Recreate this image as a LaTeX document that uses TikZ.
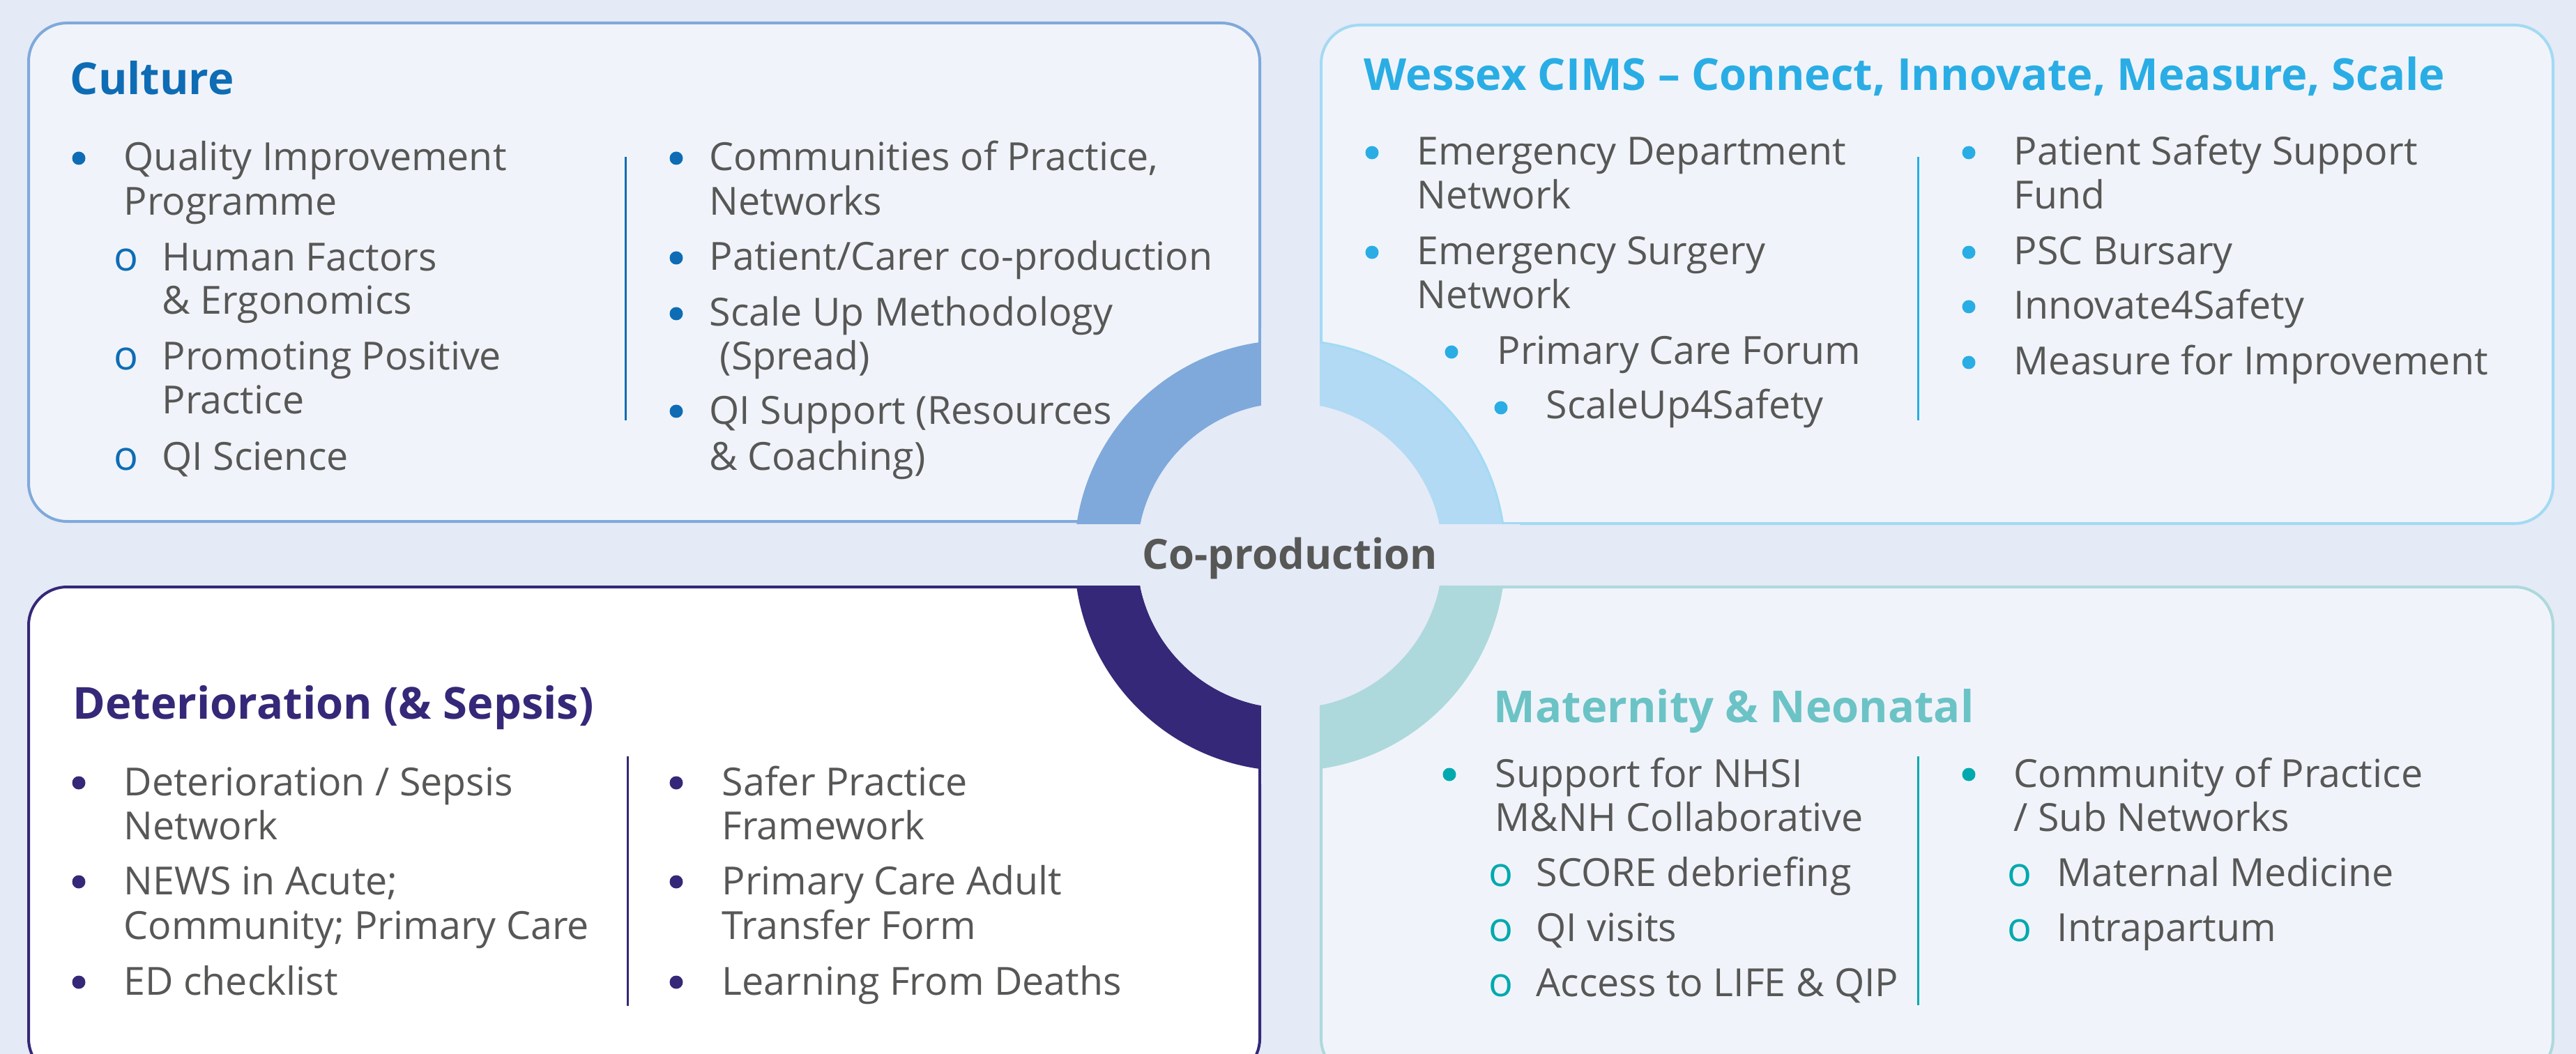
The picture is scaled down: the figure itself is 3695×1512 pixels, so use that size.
\documentclass[tikz,border=0pt]{standalone}
\usepackage{fontspec}
\setmainfont{Open Sans}
\usepackage{xcolor}
\usepackage{tikz}

% Couleurs
\definecolor{fond}{HTML}{E4EAF6}
\definecolor{remplissage}{HTML}{F0F4FA}
\definecolor{gristexte}{HTML}{575756}
\definecolor{bleuCulture}{HTML}{0E6CB5}
\definecolor{anneauCulture}{HTML}{7FA9DB}
\definecolor{cyanWessex}{HTML}{2AADE5}
\definecolor{anneauWessex}{HTML}{B2DAF4}
\definecolor{bordWessex}{HTML}{A3DAF3}
\definecolor{violetDet}{HTML}{352878}
\definecolor{titreMat}{HTML}{6CC3C6}
\definecolor{puceMat}{HTML}{00A9AE}
\definecolor{anneauMat}{HTML}{ADD9DC}

\begin{document}
\begin{tikzpicture}[x=0.1mm,y=-0.1mm]
% Styles
\tikzstyle{ligne}=[anchor=base west,inner sep=0pt,text=gristexte,font=\fontsize{15.8}{18}\selectfont]
\tikzstyle{titre}=[anchor=base west,inner sep=0pt,font=\bfseries\fontsize{18}{21}\selectfont]
\tikzstyle{sous}=[anchor=base west,inner sep=0pt,font=\fontsize{16.5}{18}\selectfont]
\tikzstyle{puce}=[circle,inner sep=0pt,minimum size=1.9mm]
\tikzset{cadre/.style={line width=0.4mm,rounded corners=5.5mm,draw=#1},
  separateur/.style={line width=0.3mm,draw=#1}}
% Dimensions de l'anneau
\def\RayonExt{30.9mm}
\def\RayonInt{21.9mm}
\def\Epaisseur{9mm}
% Fond
\path[use as bounding box,fill=fond] (0,0) rectangle (3695,1512);
% Cadres
\draw[cadre=anneauCulture,fill=remplissage] (41,33) rectangle (1807,748);
\draw[cadre=bordWessex,fill=remplissage] (1895,36) rectangle (3662,751);
\draw[cadre=violetDet,fill=white] (41,842) rectangle (1807,1545);
\draw[cadre=anneauMat,fill=remplissage] (1895,842) rectangle (3662,1545);
% Anneau central
\coordinate (Centre) at (1850,797);
\fill[anneauCulture] (Centre) ++(90:\RayonExt) arc[start angle=90,end angle=180,radius=\RayonExt]
  -- ++(\Epaisseur,0) arc[start angle=180,end angle=90,radius=\RayonInt] -- cycle;
\fill[anneauWessex] (Centre) ++(0:\RayonExt) arc[start angle=0,end angle=90,radius=\RayonExt]
  -- ++(0,-\Epaisseur) arc[start angle=90,end angle=0,radius=\RayonInt] -- cycle;
\draw[bordWessex,line width=0.3mm] (Centre) ++(0:\RayonExt) arc[start angle=0,end angle=90,radius=\RayonExt];
\fill[violetDet] (Centre) ++(180:\RayonExt) arc[start angle=180,end angle=270,radius=\RayonExt]
  -- ++(0,\Epaisseur) arc[start angle=270,end angle=180,radius=\RayonInt] -- cycle;
\fill[anneauMat] (Centre) ++(270:\RayonExt) arc[start angle=270,end angle=360,radius=\RayonExt]
  -- ++(-\Epaisseur,0) arc[start angle=360,end angle=270,radius=\RayonInt] -- cycle;
\fill[fond] (Centre) circle[radius=\RayonInt];
\fill[fond] (1809,470) rectangle (1893,1125);
\fill[fond] (1520,752) rectangle (2180,840);
\node[inner sep=0pt,anchor=base,text=gristexte,font=\bfseries\fontsize{17}{20}\selectfont] (Coprod) at (1850,816) {Co-production};

% Culture
\node[titre,text=bleuCulture] (TitreC) at (100,136) {Culture};
\node[puce,fill=bleuCulture] (Cp1) at (113,227) {};
\node[ligne] (C1a) at (177,245) {Quality Improvement};
\node[ligne] (C1b) at (177,309) {Programme};
\node[sous,text=bleuCulture] (Co2) at (163,389) {o};
\node[ligne] (C2a) at (232,389) {Human Factors};
\node[ligne] (C2b) at (232,451) {\& Ergonomics};
\node[sous,text=bleuCulture] (Co3) at (163,531) {o};
\node[ligne] (C3a) at (232,531) {Promoting Positive};
\node[ligne] (C3b) at (232,594) {Practice};
\node[sous,text=bleuCulture] (Co4) at (163,674) {o};
\node[ligne] (C4) at (232,674) {QI Science};
\coordinate (CsepH) at (897,225);
\coordinate (CsepB) at (897,603);
\draw[separateur=bleuCulture] (CsepH) -- (CsepB);
\node[puce,fill=bleuCulture] (Cp5) at (970,227) {};
\node[ligne] (C5a) at (1017,245) {Communities of Practice,};
\node[ligne] (C5b) at (1017,309) {Networks};
\node[puce,fill=bleuCulture] (Cp6) at (970,370) {};
\node[ligne] (C6) at (1017,388) {Patient/Carer co-production};
\node[puce,fill=bleuCulture] (Cp7) at (970,450) {};
\node[ligne] (C7a) at (1017,468) {Scale Up Methodology};
\node[ligne] (C7b) at (1032,531) {(Spread)};
\node[puce,fill=bleuCulture] (Cp8) at (970,590) {};
\node[ligne] (C8a) at (1017,608) {QI Support (Resources};
\node[ligne] (C8b) at (1017,674) {\& Coaching)};

% Wessex CIMS
\node[titre,text=cyanWessex] (TitreW) at (1956,130) {Wessex CIMS -- Connect, Innovate, Measure, Scale};
\node[puce,fill=cyanWessex] (Wp1) at (1968,219) {};
\node[ligne] (W1a) at (2032,237) {Emergency Department};
\node[ligne] (W1b) at (2032,300) {Network};
\node[puce,fill=cyanWessex] (Wp2) at (1968,362) {};
\node[ligne] (W2a) at (2032,380) {Emergency Surgery};
\node[ligne] (W2b) at (2032,443) {Network};
\node[puce,fill=cyanWessex] (Wp3) at (2082,505) {};
\node[ligne] (W3) at (2147,523) {Primary Care Forum};
\node[puce,fill=cyanWessex] (Wp4) at (2153,585) {};
\node[ligne] (W4) at (2217,601) {ScaleUp4Safety};
\coordinate (WsepH) at (2751,225);
\coordinate (WsepB) at (2751,603);
\draw[separateur=cyanWessex] (WsepH) -- (WsepB);
\node[puce,fill=cyanWessex] (Wp5) at (2824,219) {};
\node[ligne] (W5a) at (2888,237) {Patient Safety Support};
\node[ligne] (W5b) at (2888,300) {Fund};
\node[puce,fill=cyanWessex] (Wp6) at (2824,362) {};
\node[ligne] (W6) at (2888,380) {PSC Bursary};
\node[puce,fill=cyanWessex] (Wp7) at (2824,440) {};
\node[ligne] (W7) at (2888,458) {Innovate4Safety};
\node[puce,fill=cyanWessex] (Wp8) at (2824,520) {};
\node[ligne] (W8) at (2888,538) {Measure for Improvement};

% Deterioration
\node[titre,text=violetDet] (TitreD) at (104,1031) {Deterioration (\& Sepsis)};
\node[puce,fill=violetDet] (Dp1) at (113,1123) {};
\node[ligne] (D1a) at (177,1141) {Deterioration / Sepsis};
\node[ligne] (D1b) at (177,1204) {Network};
\node[puce,fill=violetDet] (Dp2) at (113,1265) {};
\node[ligne] (D2a) at (177,1283) {NEWS in Acute;};
\node[ligne] (D2b) at (177,1347) {Community; Primary Care};
\node[puce,fill=violetDet] (Dp3) at (113,1409) {};
\node[ligne] (D3) at (177,1427) {ED checklist};
\coordinate (DsepH) at (900,1085);
\coordinate (DsepB) at (900,1443);
\draw[separateur=violetDet] (DsepH) -- (DsepB);
\node[puce,fill=violetDet] (Dp4) at (970,1123) {};
\node[ligne] (D4a) at (1035,1141) {Safer Practice};
\node[ligne] (D4b) at (1035,1204) {Framework};
\node[puce,fill=violetDet] (Dp5) at (970,1265) {};
\node[ligne] (D5a) at (1035,1283) {Primary Care Adult};
\node[ligne] (D5b) at (1035,1347) {Transfer Form};
\node[puce,fill=violetDet] (Dp6) at (970,1409) {};
\node[ligne] (D6) at (1035,1427) {Learning From Deaths};

% Maternity
\node[titre,text=titreMat] (TitreM) at (2142,1036) {Maternity \& Neonatal};
\node[puce,fill=puceMat] (Mp1) at (2079,1111) {};
\node[ligne] (M1a) at (2144,1129) {Support for NHSI};
\node[ligne] (M1b) at (2144,1192) {M\&NH Collaborative};
\node[sous,text=puceMat] (Mo2) at (2135,1271) {o};
\node[ligne] (M2) at (2203,1271) {SCORE debriefing};
\node[sous,text=puceMat] (Mo3) at (2135,1350) {o};
\node[ligne] (M3) at (2203,1350) {QI visits};
\node[sous,text=puceMat] (Mo4) at (2135,1429) {o};
\node[ligne] (M4) at (2203,1429) {Access to LIFE \& QIP};
\coordinate (MsepH) at (2751,1085);
\coordinate (MsepB) at (2751,1442);
\draw[separateur=puceMat] (MsepH) -- (MsepB);
\node[puce,fill=puceMat] (Mp5) at (2824,1111) {};
\node[ligne] (M5a) at (2888,1129) {Community of Practice};
\node[ligne] (M5b) at (2888,1192) {/ Sub Networks};
\node[sous,text=puceMat] (Mo6) at (2879,1271) {o};
\node[ligne] (M6) at (2950,1271) {Maternal Medicine};
\node[sous,text=puceMat] (Mo7) at (2879,1350) {o};
\node[ligne] (M7) at (2950,1350) {Intrapartum};
\end{tikzpicture}
\end{document}
